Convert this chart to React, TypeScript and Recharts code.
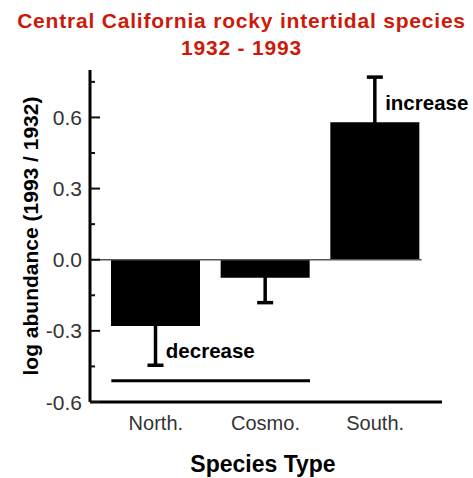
import { BarChart, Bar, XAxis, YAxis, ErrorBar, ReferenceLine, ReferenceDot, Label } from "recharts";

const categories = ["North.", "Cosmo.", "South."];
const logAbundance = [-0.28, -0.076, 0.58];
// lower / upper error; the side pointing into the bar is hidden by the black fill
const errorLow = [0.165, 0.105, 0.05];
const errorHigh = [0.05, 0.05, 0.19];

const yTicks = [-0.6, -0.45, -0.3, -0.15, 0, 0.15, 0.3, 0.45, 0.6, 0.75];
const majorTicks = [-0.6, -0.3, 0, 0.3, 0.6];

const spanLevel = -0.51;
const spanCategories = ["North.", "Cosmo."];

const noteCategories = ["North.", "South."];
const noteValues = [-0.383, 0.661];
const noteTexts = ["decrease", "increase"];

const FONT = "'Liberation Sans', Arial, sans-serif";
const BAR = 89;
const PLOT_LEFT = 90;

const data = categories.map((name, i) => ({
  name,
  value: logAbundance[i],
  err: [errorLow[i], errorHigh[i]],
}));

const YTick = ({ x, y, payload }: any) => {
  const v = payload.value;
  const major = majorTicks.some((m) => Math.abs(m - v) < 1e-6);
  return (
    <g>
      <line x1={x} x2={x + (major ? 10 : 5)} y1={y} y2={y} stroke="#111" strokeWidth={2} />
      {major && (
        <text x={x - 8} y={y} textAnchor="end" dominantBaseline="central" fill="#333" fontSize={21} fontFamily={FONT}>
          {v.toFixed(1)}
        </text>
      )}
    </g>
  );
};

const SpanLine = (p: any) => (
  <line x1={p.x1 - BAR / 2} x2={p.x2 + BAR / 2} y1={p.y1} y2={p.y2} stroke="#000" strokeWidth={3} />
);

const ZeroLine = (p: any) => (
  <line x1={PLOT_LEFT} x2={p.x2 + BAR / 2 + 2} y1={p.y1} y2={p.y2} stroke="#555" strokeWidth={1.5} />
);

const noteLabel = (text: string) => ({ viewBox }: any) => (
  <text x={viewBox.x + 10} y={viewBox.y} dominantBaseline="central" fill="#000" fontSize={20.5} fontWeight="bold" fontFamily={FONT}>
    {text}
  </text>
);

export default function App() {
  return (
    <div style={{ position: "absolute", left: 0, top: 0, width: 473, height: 478, background: "#fff" }}>
      <div
        style={{
          position: "absolute",
          left: 0,
          top: 7,
          width: 473,
          paddingLeft: 10,
          boxSizing: "border-box",
          textAlign: "center",
          color: "#cc1a0a",
          fontFamily: FONT,
          fontWeight: "bold",
          fontSize: 21,
          letterSpacing: 0.8,
          lineHeight: "27px",
          whiteSpace: "nowrap",
        }}
      >
        <div>Central California rocky intertidal species</div>
        <div>1932 - 1993</div>
      </div>
      <BarChart width={473} height={478} data={data} margin={{ top: 70, right: 31, left: 0, bottom: 0 }}>
        <XAxis
          dataKey="name"
          padding={{ left: 11, right: 12 }}
          axisLine={{ stroke: "#000", strokeWidth: 3 }}
          tickLine={false}
          tickSize={0}
          tickMargin={14}
          height={76}
          tick={{ fill: "#333", fontSize: 20, fontFamily: FONT }}
        >
          <Label
            content={({ viewBox }: any) => (
              <text x={viewBox.x + viewBox.width / 2 - 3} y={472} textAnchor="middle" fill="#000" fontSize={23} fontWeight="bold" fontFamily={FONT}>
                Species Type
              </text>
            )}
          />
        </XAxis>
        <YAxis
          type="number"
          width={90}
          domain={[-0.6, 0.8]}
          ticks={yTicks}
          interval={0}
          allowDataOverflow
          axisLine={{ stroke: "#000", strokeWidth: 3 }}
          tickLine={false}
          tickSize={0}
          tickMargin={0}
          tick={<YTick />}
        >
          <Label
            content={({ viewBox }: any) => {
              const cy = viewBox.y + viewBox.height / 2;
              return (
                <text x={30} y={cy} transform={`rotate(-90, 30, ${cy})`} textAnchor="middle" dominantBaseline="central" fill="#000" fontSize={21} fontWeight="bold" fontFamily={FONT}>
                  log abundance (1993 / 1932)
                </text>
              );
            }}
          />
        </YAxis>
        <ReferenceLine
          segment={[{ x: categories[0], y: 0 }, { x: categories[2], y: 0 }]}
          shape={<ZeroLine />}
          ifOverflow="visible"
        />
        <Bar dataKey="value" fill="#000" barSize={BAR} isAnimationActive={false}>
          <ErrorBar dataKey="err" direction="y" width={8} stroke="#000" strokeWidth={3.5} isAnimationActive={false} />
        </Bar>
        <ReferenceLine
          segment={[{ x: spanCategories[0], y: spanLevel }, { x: spanCategories[1], y: spanLevel }]}
          shape={<SpanLine />}
          ifOverflow="visible"
        />
        {noteCategories.map((c, i) => (
          <ReferenceDot key={c} x={c} y={noteValues[i]} r={0} fill="none" stroke="none" ifOverflow="visible">
            <Label content={noteLabel(noteTexts[i])} />
          </ReferenceDot>
        ))}
      </BarChart>
    </div>
  );
}
